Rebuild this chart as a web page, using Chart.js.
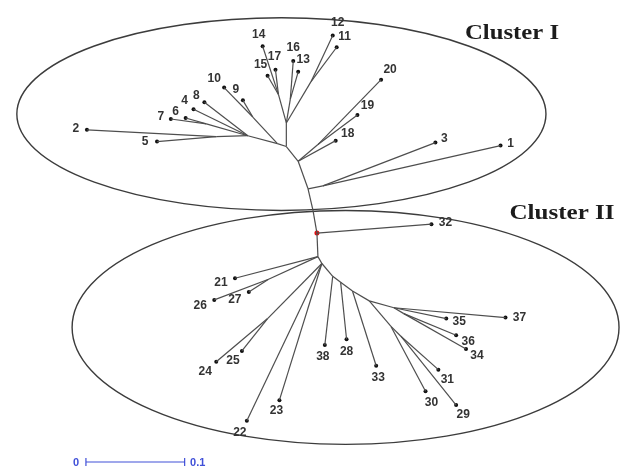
<!DOCTYPE html>
<html>
<head>
<meta charset="utf-8">
<script src="https://cdn.jsdelivr.net/npm/chart.js@4"></script>
<style>
body { margin: 0; background: #fff; }
#wrap { width: 624px; height: 470px; position: relative; }
</style>
</head>
<body>
<div id="wrap"><canvas id="tree"></canvas></div>
<script>
// tips of the tree (distance units, y grows downward)
const tipNames = ['1','2','3','4','5','6','7','8','9','10',
  '11','12','13','14','15','16','17','18','19','20',
  '21','22','23','24','25','26','27','28','29','30',
  '31','32','33','34','35','36','37','38'];
const tipX = [0.503,0.084,0.437,0.192,0.155,0.184,0.169,0.203,0.242,0.223,
  0.337,0.333,0.298,0.262,0.267,0.293,0.275,0.336,0.358,0.382,
  0.234,0.246,0.279,0.215,0.241,0.213,0.248,0.347,0.458,0.427,
  0.440,0.433,0.377,0.468,0.448,0.458,0.508,0.325];
const tipY = [0.144,0.128,0.141,0.107,0.140,0.116,0.117,0.100,0.098,0.085,
  0.044,0.032,0.069,0.043,0.073,0.058,0.067,0.139,0.113,0.077,
  0.279,0.424,0.403,0.364,0.353,0.301,0.293,0.341,0.408,0.394,
  0.372,0.224,0.368,0.351,0.320,0.337,0.319,0.347];
const tipParent = ['n13','n7','n13','n6','n7','n8','n8','n6','n9','n9',
  'n12','n12','n11','n10','n10','n11','n10','n2','n2a','n2a',
  'm1','m4','m4','m15','m15','m3','m3','m6','m13','m10',
  'm13','root','m7','m12','m9','m12','m9','m5'];

// internal nodes
const nodeNames  = ['root','t1','n13a','n13','n2','n2a','n3','n4','n10','n11','n12','n5','n9','n6','n8','n7',
  'm1','m3','m4','m15','m5','m6','m7','m8','m9','m12','m10','m13'];
const nodeX = [0.317,0.313,0.308,0.323,0.298,0.318,0.286,0.286,0.278,0.290,0.311,0.277,0.252,0.247,0.205,0.215,
  0.318,0.268,0.322,0.267,0.333,0.341,0.353,0.370,0.395,0.405,0.392,0.402];
const nodeY = [0.233,0.210,0.188,0.185,0.160,0.143,0.145,0.121,0.092,0.097,0.079,0.142,0.115,0.134,0.122,0.135,
  0.257,0.280,0.264,0.320,0.277,0.283,0.292,0.302,0.309,0.315,0.328,0.338];
const nodeParent = [null,'root','t1','n13a','n13a','n2','n2','n3','n4','n4','n4','n3','n5','n5','n6','n6',
  'root','m1','m1','m4','m4','m5','m6','m7','m8','m9','m8','m10'];

// cluster ellipses: centre x, centre y, radius x, radius y
const clusterNames = ['Cluster I', 'Cluster II'];
const clusterCx = [0.281, 0.346];
const clusterCy = [0.112, 0.329];
const clusterRx = [0.268, 0.277];
const clusterRy = [0.098, 0.119];

const scaleBarLength = 0.1;

// label offsets in pixels (dx, dy) next to each tip
const labelDx = [10,-11,9,-9,-12,-10,-10,-8,-7,-10, 8,5,5,-4,-7,0,-1,12,10,9,
  -14,-7,-3,-11,-9,-14,-14,0,7,6, 9,14,2,11,13,12,14,-2];
const labelDy = [-2,-1,-4,-8,0,-6,-2,-7,-11,-9, -11,-13,-12,-12,-11,-13,-13,-7,-9,-10,
  4,12,11,10,10,6,8,12,10,11, 10,-1,12,7,3,6,0,12];

function nodePos(name) {
  const i = nodeNames.indexOf(name);
  return { x: nodeX[i], y: nodeY[i] };
}

const edgeStyle = { type: 'line', showLine: true, pointRadius: 0, borderColor: '#4e4e4e', borderWidth: 1.2, fill: false };
const datasets = [];
for (let i = 0; i < nodeNames.length; i++) {
  if (!nodeParent[i]) continue;
  datasets.push(Object.assign({ data: [nodePos(nodeParent[i]), { x: nodeX[i], y: nodeY[i] }] }, edgeStyle));
}
for (let i = 0; i < tipNames.length; i++) {
  datasets.push(Object.assign({ data: [nodePos(tipParent[i]), { x: tipX[i], y: tipY[i] }] }, edgeStyle));
}
datasets.push({
  type: 'scatter',
  data: tipNames.map((n, i) => ({ x: tipX[i], y: tipY[i] })),
  pointRadius: 2, pointBackgroundColor: '#111', pointBorderWidth: 0
});
datasets.push({
  type: 'scatter',
  data: [nodePos('root')],
  pointRadius: 2.5, pointBackgroundColor: '#e01010', pointBorderWidth: 0
});

const treePlugin = {
  id: 'treeExtras',
  beforeDatasetsDraw(chart) {
    const ctx = chart.ctx, xs = chart.scales.x, ys = chart.scales.y;
    ctx.save();
    ctx.strokeStyle = '#3c3c3c';
    ctx.lineWidth = 1.4;
    for (let i = 0; i < clusterNames.length; i++) {
      const cx = xs.getPixelForValue(clusterCx[i]);
      const cy = ys.getPixelForValue(clusterCy[i]);
      const rx = Math.abs(xs.getPixelForValue(clusterCx[i] + clusterRx[i]) - cx);
      const ry = Math.abs(ys.getPixelForValue(clusterCy[i] + clusterRy[i]) - cy);
      ctx.beginPath();
      ctx.ellipse(cx, cy, rx, ry, 0, 0, Math.PI * 2);
      ctx.stroke();
    }
    ctx.restore();
  },
  afterDraw(chart) {
    const ctx = chart.ctx, xs = chart.scales.x, ys = chart.scales.y;
    ctx.save();
    // tip labels
    ctx.fillStyle = '#333';
    ctx.font = 'bold 12px "Liberation Sans", Arial, sans-serif';
    ctx.textAlign = 'center';
    ctx.textBaseline = 'middle';
    for (let i = 0; i < tipNames.length; i++) {
      ctx.fillText(tipNames[i], xs.getPixelForValue(tipX[i]) + labelDx[i], ys.getPixelForValue(tipY[i]) + labelDy[i]);
    }
    // cluster titles
    ctx.fillStyle = '#1c1c1c';
    ctx.font = 'bold 20px "Liberation Serif", "Times New Roman", serif';
    const titles = [[clusterNames[0], 512, 34, 94], [clusterNames[1], 562, 214, 105]];
    titles.forEach(t => {
      const w = ctx.measureText(t[0]).width;
      ctx.save();
      ctx.translate(t[1], t[2]);
      ctx.scale(t[3] / w, 1);
      ctx.fillText(t[0], 0, 0);
      ctx.restore();
    });
    // scale bar
    const x0 = xs.getPixelForValue(0.083), x1 = xs.getPixelForValue(0.083 + scaleBarLength);
    const yb = 462;
    ctx.strokeStyle = '#4050d8';
    ctx.fillStyle = '#4050d8';
    ctx.lineWidth = 1.2;
    ctx.beginPath();
    ctx.moveTo(x0, yb); ctx.lineTo(x1, yb);
    ctx.moveTo(x0, yb - 4); ctx.lineTo(x0, yb + 4);
    ctx.moveTo(x1, yb - 4); ctx.lineTo(x1, yb + 4);
    ctx.stroke();
    ctx.font = 'bold 11px "Liberation Sans", Arial, sans-serif';
    ctx.fillText('0', x0 - 10, yb + 1);
    ctx.fillText(String(scaleBarLength), x1 + 13, yb + 1);
    ctx.restore();
  }
};

new Chart(document.getElementById('tree'), {
  data: { datasets: datasets },
  options: {
    responsive: true,
    maintainAspectRatio: false,
    animation: false,
    layout: { padding: 0 },
    plugins: { legend: { display: false }, tooltip: { enabled: false } },
    scales: {
      x: { type: 'linear', min: 0, max: 0.624, display: false },
      y: { type: 'linear', min: 0, max: 0.470, reverse: true, display: false }
    }
  },
  plugins: [treePlugin]
});
</script>
</body>
</html>
